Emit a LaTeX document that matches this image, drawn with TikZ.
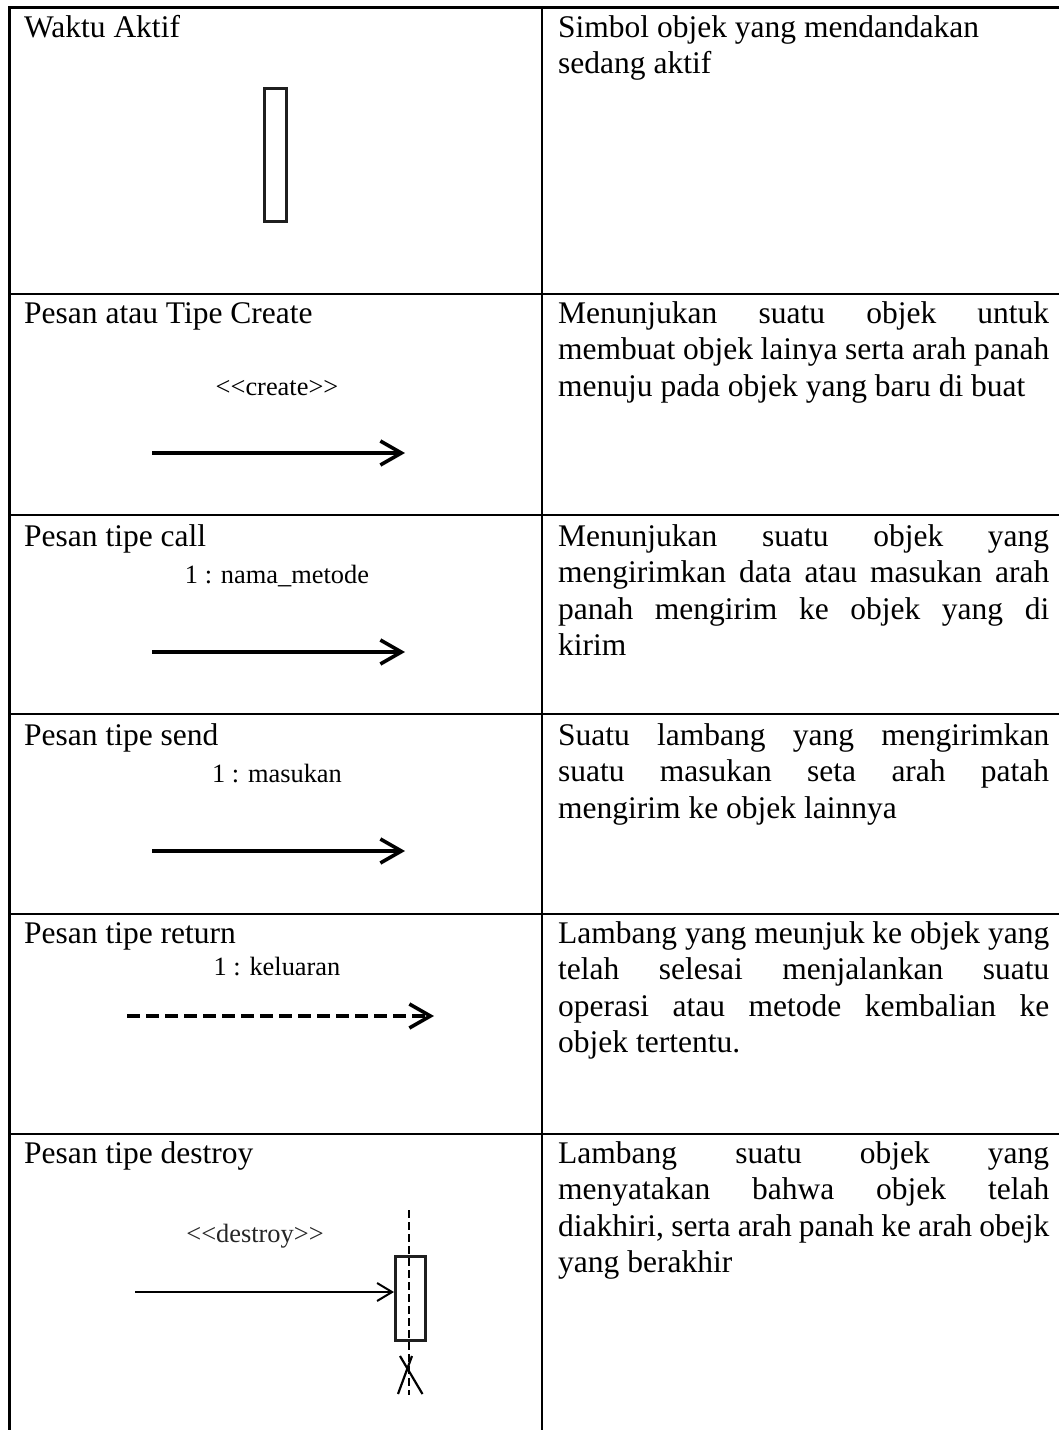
\documentclass[tikz,border=0pt]{standalone}
\usepackage{fontspec}
\setmainfont{Liberation Serif}
\usetikzlibrary{arrows.meta}

% one justified line of a description cell
\newcommand\justline[1]{\makebox[\linewidth][s]{#1}}
% guillemet-free angle brackets
\newcommand\dlt{\textless\kern0pt\textless\kern0pt}
\newcommand\dgt{\kern0pt\textgreater\kern0pt\textgreater}

\begin{document}
\begin{tikzpicture}[x=1pt,y=-1pt,
  grid/.style={line width=2.4pt, line cap=rect},
  head/.style={anchor=base west, inner sep=0pt, font=\fontsize{31.5}{36.5}\selectfont},
  desc/.style={anchor=base west, inner sep=0pt, font=\fontsize{31.5}{36.5}\selectfont},
  lbl/.style={anchor=base, inner sep=0pt, font=\fontsize{26.4}{30}\selectfont},
  actbox/.style={draw=black!88, line width=3.2pt, inner sep=0pt},
  msg/.style={line width=3.6pt, -{Straight Barb[length=21pt,width=24pt]}},
  retmsg/.style={msg, dash pattern=on 13pt off 6pt},
  thinmsg/.style={line width=2pt, -{Straight Barb[length=15pt,width=18pt]}},
  lifeline/.style={line width=1.4pt, dash pattern=on 8pt off 4pt},
]
\useasboundingbox (0,0) rectangle (1059,1430);

% table rules
\draw[grid] (9.5,1434) -- (9.5,7.5) -- (1064,7.5);
\draw[grid] (542,7.5) -- (542,1434);
\foreach \y in {294,515,714,914,1134}
  \draw[grid] (9.5,\y) -- (1064,\y);

% left column titles
\node[head] (h1) at (24,37)   {Waktu Aktif};
\node[head] (h2) at (24,323)  {Pesan atau Tipe Create};
\node[head] (h3) at (24,546)  {Pesan tipe call};
\node[head] (h4) at (24,745)  {Pesan tipe send};
\node[head] (h5) at (24,943)  {Pesan tipe return};
\node[head] (h6) at (24,1163) {Pesan tipe destroy};

% right column descriptions
\node[desc] (d1) at (558,37) {\parbox[t]{491pt}{%
  Simbol objek yang mendandakan\\
  sedang aktif}};
\node[desc] (d2) at (558,323) {\parbox[t]{491pt}{%
  \justline{Menunjukan suatu objek untuk}\\
  \justline{membuat objek lainya serta arah panah}\\
  menuju pada objek yang baru di buat}};
\node[desc] (d3) at (558,546) {\parbox[t]{491pt}{%
  \justline{Menunjukan suatu objek yang}\\
  \justline{mengirimkan data atau masukan arah}\\
  \justline{panah mengirim ke objek yang di}\\
  kirim}};
\node[desc] (d4) at (558,745) {\parbox[t]{491pt}{%
  \justline{Suatu lambang yang mengirimkan}\\
  \justline{suatu masukan seta arah patah}\\
  mengirim ke objek lainnya}};
\node[desc] (d5) at (558,943) {\parbox[t]{491pt}{%
  \justline{Lambang yang meunjuk ke objek yang}\\
  \justline{telah selesai menjalankan suatu}\\
  \justline{operasi atau metode kembalian ke}\\
  objek tertentu.}};
\node[desc] (d6) at (558,1163) {\parbox[t]{491pt}{%
  \justline{Lambang suatu objek yang}\\
  \justline{menyatakan bahwa objek telah}\\
  \justline{diakhiri, serta arah panah ke arah obejk}\\
  yang berakhir}};

% activation bar
\node[actbox, minimum width=21.8pt, minimum height=132.8pt] (act) at (275.5,155) {};

% create message
\node[lbl] (l2) at (277,395) {\dlt create\dgt};
\coordinate (c2a) at (152,453);
\coordinate (c2b) at (405,453);
\draw[msg] (c2a) -- (c2b);

% call message
\node[lbl] (l3) at (277,583) {1 : nama\_metode};
\coordinate (c3a) at (152,652);
\coordinate (c3b) at (405,652);
\draw[msg] (c3a) -- (c3b);

% send message
\node[lbl] (l4) at (277,782) {1 : masukan};
\coordinate (c4a) at (152,851);
\coordinate (c4b) at (405,851);
\draw[msg] (c4a) -- (c4b);

% return message
\node[lbl] (l5) at (277,975) {1 : keluaran};
\coordinate (c5a) at (127,1016);
\coordinate (c5b) at (434,1016);
\draw[retmsg] (c5a) -- (c5b);

% destroy message
\node[lbl, text=black!85] (l6) at (255,1242) {\dlt destroy\dgt};
\coordinate (ll1) at (409,1210);
\coordinate (ll2) at (409,1395);
\draw[lifeline] (ll1) -- (ll2);
\node[actbox, line width=3pt, minimum width=30pt, minimum height=84pt] (dact) at (410.5,1298.5) {};
\coordinate (c6a) at (135,1292);
\draw[thinmsg] (c6a) -- (c6a -| dact.west);
\coordinate (xa) at (400,1356);
\coordinate (xb) at (422.5,1394);
\coordinate (xc) at (412,1356);
\coordinate (xd) at (398,1394);
\draw[line width=2.2pt] (xa) -- (xb) (xc) -- (xd);
\end{tikzpicture}
\end{document}
